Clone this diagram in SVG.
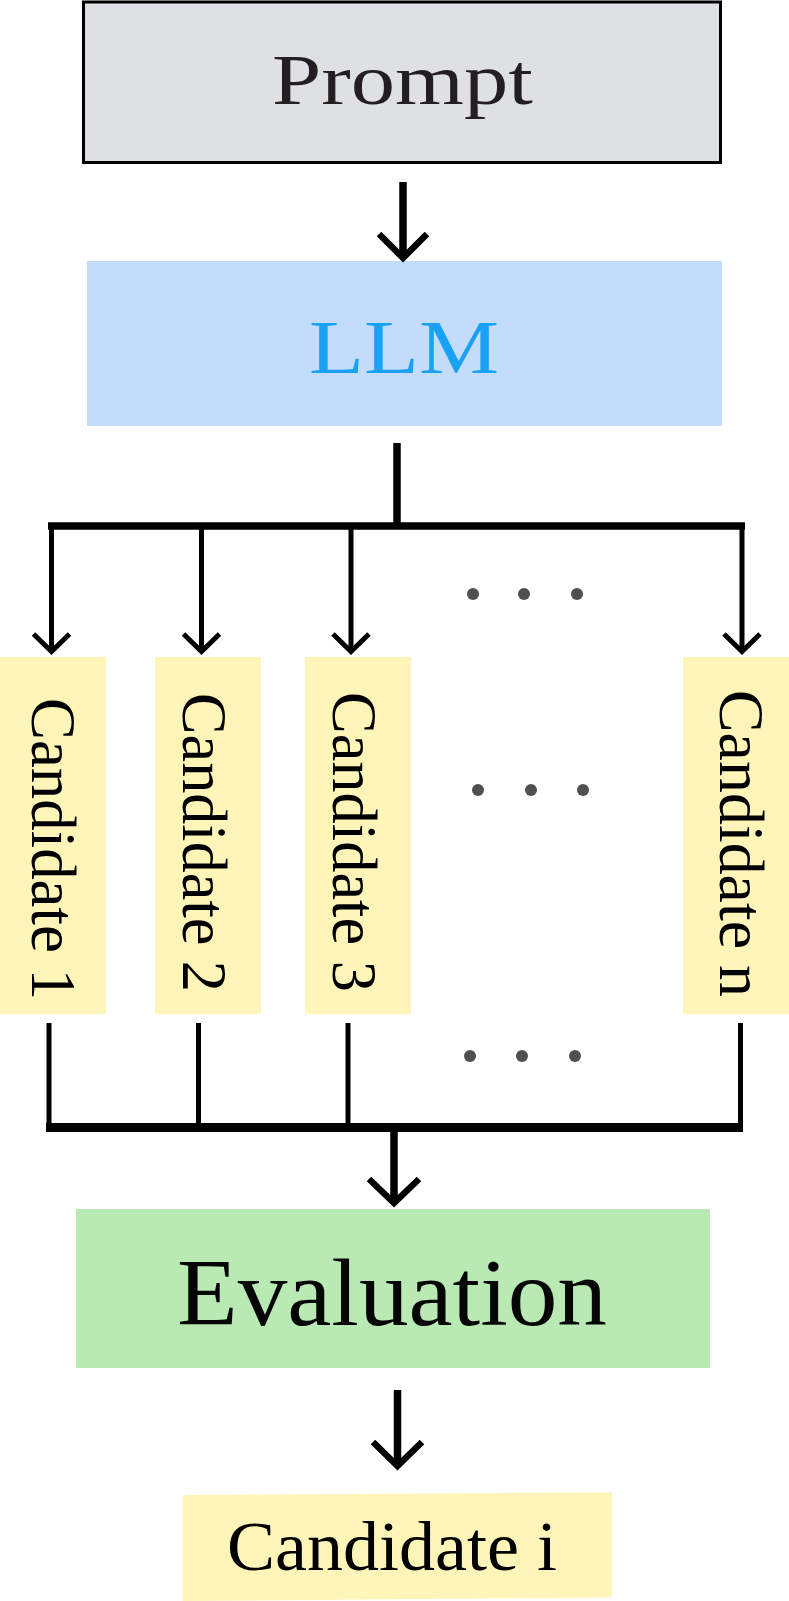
<svg xmlns="http://www.w3.org/2000/svg" width="789" height="1601" viewBox="0 0 789 1601">
  <style>
    .txt { font-family: "Liberation Serif", "DejaVu Serif", serif; }
    .cand { fill: #fff5b8; }
    .wire { stroke: #000; fill: none; stroke-linecap: butt; stroke-linejoin: miter; }
    .thick { stroke-width: 7.5; }
    .thin { stroke-width: 5; }
    .headB { stroke: #000; fill: none; stroke-width: 6.5; stroke-linejoin: miter; stroke-miterlimit: 10; }
    .headS { stroke: #000; fill: none; stroke-width: 5; stroke-linejoin: miter; stroke-miterlimit: 10; }
    .dot { fill: #505050; }
  </style>
  <rect width="789" height="1601" fill="#ffffff"/>

  <g id="prompt">
    <rect x="83.5" y="2" width="637" height="160.5" fill="#dfe0e4" stroke="#000" stroke-width="3"/>
    <text class="txt" x="402.5" y="104" font-size="72" text-anchor="middle" fill="#231f20" textLength="261" lengthAdjust="spacingAndGlyphs">Prompt</text>
  </g>

  <g id="llm">
    <rect x="87" y="261" width="635" height="165" fill="#c2dcfa"/>
    <text class="txt" x="404" y="373" font-size="76" text-anchor="middle" fill="#1ba1f3" textLength="190" lengthAdjust="spacingAndGlyphs">LLM</text>
  </g>

  <g id="candidate-1">
    <rect class="cand" x="0" y="657" width="106" height="357"/>
    <text class="txt" transform="translate(32,698) rotate(90)" font-size="63" fill="#000" textLength="302" lengthAdjust="spacingAndGlyphs">Candidate 1</text>
  </g>
  <g id="candidate-2">
    <rect class="cand" x="155" y="657" width="106" height="357"/>
    <text class="txt" transform="translate(183,693) rotate(90)" font-size="63" fill="#000" textLength="299" lengthAdjust="spacingAndGlyphs">Candidate 2</text>
  </g>
  <g id="candidate-3">
    <rect class="cand" x="305" y="657" width="106" height="357"/>
    <text class="txt" transform="translate(333,692) rotate(90)" font-size="63" fill="#000" textLength="300" lengthAdjust="spacingAndGlyphs">Candidate 3</text>
  </g>
  <g id="candidate-n">
    <rect class="cand" x="683" y="657" width="106" height="357"/>
    <text class="txt" transform="translate(720,690) rotate(90)" font-size="63" fill="#000" textLength="307" lengthAdjust="spacingAndGlyphs">Candidate n</text>
  </g>

  <g id="ellipsis">
    <circle class="dot" cx="473" cy="594" r="6"/>
    <circle class="dot" cx="524" cy="594" r="6"/>
    <circle class="dot" cx="577" cy="594" r="6"/>
    <circle class="dot" cx="478" cy="790" r="6"/>
    <circle class="dot" cx="531" cy="790" r="6"/>
    <circle class="dot" cx="583" cy="790" r="6"/>
    <circle class="dot" cx="470" cy="1056" r="6"/>
    <circle class="dot" cx="522" cy="1056" r="6"/>
    <circle class="dot" cx="575" cy="1056" r="6"/>
  </g>

  <g id="evaluation">
    <rect x="76" y="1209" width="634" height="159" fill="#b9eab4"/>
    <text class="txt" x="392" y="1325" font-size="95" text-anchor="middle" fill="#050505" textLength="430" lengthAdjust="spacingAndGlyphs">Evaluation</text>
  </g>

  <g id="candidate-i">
    <polygon points="183,1495 612,1492.5 612,1597.5 183,1601" fill="#fff5b8"/>
    <text class="txt" x="392" y="1570" font-size="69" text-anchor="middle" fill="#000" textLength="330" lengthAdjust="spacingAndGlyphs">Candidate i</text>
  </g>

  <g id="connectors">
    <!-- Prompt to LLM -->
    <line class="wire thick" x1="403" y1="182" x2="403" y2="257"/>
    <polyline class="headB" points="379,234 403,258 427,234"/>

    <!-- LLM fan-out -->
    <line class="wire thick" x1="397" y1="443" x2="397" y2="526"/>
    <polyline class="wire thick" points="48,526 745,526"/>
    <line class="wire thin" x1="51.5" y1="526" x2="51.5" y2="651"/>
    <line class="wire thin" x1="201.5" y1="526" x2="201.5" y2="651"/>
    <line class="wire thin" x1="351" y1="526" x2="351" y2="651"/>
    <line class="wire thin" x1="742" y1="526" x2="742" y2="651"/>
    <polyline class="headS" points="33.5,634 51.5,651.5 69.5,634"/>
    <polyline class="headS" points="183.5,634 201.5,651.5 219.5,634"/>
    <polyline class="headS" points="333,634 351,651.5 369,634"/>
    <polyline class="headS" points="724,634 742,651.5 760,634"/>

    <!-- fan-in -->
    <line class="wire thin" x1="49" y1="1023" x2="49" y2="1127"/>
    <line class="wire thin" x1="198.5" y1="1023" x2="198.5" y2="1127"/>
    <line class="wire thin" x1="348" y1="1023" x2="348" y2="1127"/>
    <line class="wire thin" x1="740.5" y1="1023" x2="740.5" y2="1127"/>
    <line class="wire" stroke-width="9" x1="46" y1="1127.5" x2="743" y2="1127.5"/>
    <line class="wire thick" x1="394" y1="1132" x2="394" y2="1202"/>
    <polyline class="headB" points="369,1179 394,1203 419,1179"/>

    <!-- Evaluation to Candidate i -->
    <line class="wire thick" x1="397.5" y1="1390" x2="397.5" y2="1465"/>
    <polyline class="headB" points="373,1442 397.5,1466 422,1442"/>
  </g>
</svg>
